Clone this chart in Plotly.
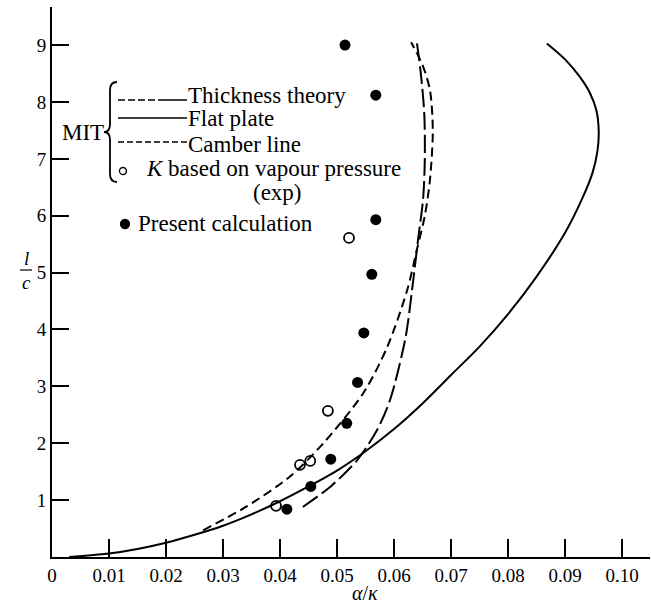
import plotly.graph_objects as go

# ---------------- data ----------------
flat_x = [0.003, 0.010, 0.015, 0.020, 0.025, 0.030, 0.035, 0.040, 0.045, 0.050, 0.055, 0.060,
          0.065, 0.070, 0.075, 0.080, 0.085, 0.090, 0.093, 0.0948, 0.0957, 0.0959, 0.0955,
          0.0944, 0.0926, 0.0900, 0.0868]
flat_y = [0.00, 0.06, 0.14, 0.25, 0.39, 0.55, 0.75, 0.98, 1.24, 1.52, 1.86, 2.25,
          2.70, 3.20, 3.70, 4.27, 4.93, 5.70, 6.30, 6.75, 7.15, 7.50, 7.85,
          8.15, 8.44, 8.75, 9.03]

camber_x = [0.0265, 0.034, 0.0418, 0.0476, 0.0546, 0.0588, 0.0623, 0.064, 0.0654,
            0.0663, 0.0668, 0.0663, 0.0650, 0.0630]
camber_y = [0.47, 0.88, 1.42, 2.00, 2.88, 3.69, 4.69, 5.40, 6.00,
            6.63, 7.50, 8.21, 8.65, 9.05]

thick_x = [0.0440, 0.0490, 0.0535, 0.0570, 0.0593, 0.0620, 0.0633, 0.0642, 0.0651,
           0.0654, 0.0653, 0.0647, 0.0640]
thick_y = [0.88, 1.25, 1.70, 2.23, 2.76, 3.85, 4.81, 5.57, 6.30,
           7.00, 7.80, 8.50, 9.05]

present_x = [0.0514, 0.0568, 0.0568, 0.0561, 0.0547, 0.0536, 0.0517, 0.0489, 0.0454, 0.0412]
present_y = [9.00, 8.12, 5.93, 4.97, 3.94, 3.07, 2.35, 1.72, 1.24, 0.84]

exp_x = [0.0521, 0.0484, 0.0453, 0.0435, 0.0393]
exp_y = [5.61, 2.57, 1.69, 1.62, 0.90]

x_ticks = [0, 0.01, 0.02, 0.03, 0.04, 0.05, 0.06, 0.07, 0.08, 0.09, 0.10]
x_ticktext = ["0", "0.01", "0.02", "0.03", "0.04", "0.05", "0.06", "0.07", "0.08", "0.09", "0.10"]
y_ticks = [1, 2, 3, 4, 5, 6, 7, 8, 9]

FONT = "Liberation Serif"

# ---------------- layout geometry ----------------
W, H = 651, 605
L, R, T, B = 52, 1, 7, 48
PW, PH = W - L - R, H - T - B


def px(xp):
    return (xp - L) / PW


def py(yp):
    return (H - B - yp) / PH


fig = go.Figure()

fig.add_trace(go.Scatter(x=flat_x, y=flat_y, mode="lines",
                         line=dict(color="black", width=2, shape="spline", smoothing=0.9),
                         name="Flat plate", showlegend=False))
fig.add_trace(go.Scatter(x=camber_x, y=camber_y, mode="lines",
                         line=dict(color="black", width=2, dash="9px,5px", shape="spline", smoothing=0.8),
                         name="Camber line", showlegend=False))
fig.add_trace(go.Scatter(x=thick_x, y=thick_y, mode="lines",
                         line=dict(color="black", width=2, dash="18px,5px", shape="spline", smoothing=0.8),
                         name="Thickness theory", showlegend=False))
fig.add_trace(go.Scatter(x=exp_x, y=exp_y, mode="markers",
                         marker=dict(symbol="circle-open", size=10, color="black", line=dict(width=1.8, color="black")),
                         name="K based on vapour pressure (exp)", showlegend=False))
fig.add_trace(go.Scatter(x=present_x, y=present_y, mode="markers",
                         marker=dict(symbol="circle", size=11, color="black"),
                         name="Present calculation", showlegend=False))

shapes = []
ann = []


def hline(x0, x1, y, dash="solid"):
    shapes.append(dict(type="line", xref="paper", yref="paper", x0=px(x0), x1=px(x1), y0=py(y), y1=py(y),
                       line=dict(color="black", width=1.5, dash=dash)))


# legend sample lines
hline(118, 160, 100, "7px,3px")
hline(160, 187, 100)
hline(118, 187, 118)
hline(118, 187, 142, "6px,3px")

# brace
path = "M {} {} Q {} {} {} {} L {} {} Q {} {} {} {} Q {} {} {} {} L {} {} Q {} {} {} {}".format(
    px(117), py(82), px(110), py(82), px(110), py(90),
    px(110), py(124),
    px(110), py(132), px(104), py(132),
    px(110), py(132), px(110), py(140),
    px(110), py(174),
    px(110), py(182), px(117), py(182))
shapes.append(dict(type="path", xref="paper", yref="paper", path=path, line=dict(color="black", width=1.8)))


def circ(cx, cy, r, filled):
    shapes.append(dict(type="circle", xref="paper", yref="paper",
                       x0=px(cx - r), x1=px(cx + r), y0=py(cy + r), y1=py(cy - r),
                       line=dict(color="black", width=1.3), fillcolor="black" if filled else "white"))


circ(123, 171, 3.5, False)
circ(125, 224, 4.5, True)

# l/c fraction bar
shapes.append(dict(type="line", xref="paper", yref="paper", x0=px(20), x1=px(32), y0=py(270), y1=py(270),
                   line=dict(color="black", width=1.2)))


def text(t, x, y, xanchor="left", size=23):
    ann.append(dict(text=t, x=px(x), y=py(y), xref="paper", yref="paper", xanchor=xanchor, yanchor="middle",
                    showarrow=False, font=dict(family=FONT, size=size, color="black")))


text("Thickness theory", 186, 95)
text("Flat plate", 186, 119)
text("Camber line", 186, 144)
text("<i>K</i> based on vapour pressure", 144, 168)
text("(exp)", 277, 193, "center")
text("Present calculation", 136, 223)
text("MIT", 106, 132, "right")
text("<i>l</i>", 26, 258, "center", 19)
text("<i>c</i>", 26, 282, "center", 19)
text("<i>α</i>/<i>κ</i>", 365, 593, "center", 20)

fig.update_layout(
    width=W, height=H,
    margin=dict(l=L, r=R, t=T, b=B),
    paper_bgcolor="white", plot_bgcolor="white",
    showlegend=False,
    shapes=shapes, annotations=ann,
    font=dict(family=FONT, size=19, color="black"),
    xaxis=dict(range=[0, 0.1049], tickvals=x_ticks, ticktext=x_ticktext, ticks="inside", ticklen=18, tickwidth=1.5,
               tickcolor="black", showline=True, linecolor="black", linewidth=2, showgrid=False, zeroline=False,
               tickfont=dict(family=FONT, size=19, color="black")),
    yaxis=dict(range=[0, 9.67], tickvals=y_ticks, ticks="inside", ticklen=17, tickwidth=1.5, tickcolor="black",
               showline=True, linecolor="black", linewidth=2, showgrid=False, zeroline=False,
               tickfont=dict(family=FONT, size=19, color="black")),
)

fig.write_html("out.html", config={"displayModeBar": False},
               post_script="document.body.style.margin='0';")
